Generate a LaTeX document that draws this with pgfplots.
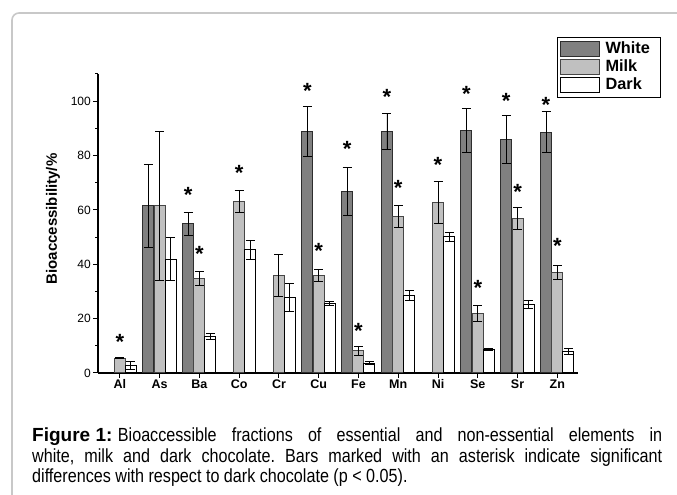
\documentclass[border=0pt]{standalone}
\usepackage{fontspec}
\setmainfont{Liberation Sans}
\newfontfamily\narrowfont[FakeStretch=0.85]{Liberation Sans}
\usepackage{pgfplots}
\pgfplotsset{compat=1.18}
\usepackage{pgfplotstable}
\definecolor{whitebar}{RGB}{128,128,128}
\definecolor{milkbar}{RGB}{192,192,192}
\definecolor{edgeA}{RGB}{45,45,45}
\definecolor{edgeB}{RGB}{70,70,70}
\definecolor{framegray}{RGB}{200,200,200}
\hbadness=10000
\frenchspacing

\pgfplotstableread{
x y e
1 61.5 15.2
2 54.9 4.2
5 89.0 9.2
6 66.7 8.8
7 88.8 6.7
9 89.2 8.0
10 85.9 8.8
11 88.6 7.5
}\whitedata
\pgfplotstableread{
x y e
0 5.4 0.2
1 61.5 27.4
2 34.8 2.5
3 63.0 4.1
4 35.9 7.6
5 35.9 2.3
6 8.2 1.6
7 57.5 4.1
8 62.7 7.7
9 21.9 2.8
10 56.9 4.0
11 37.0 2.6
}\milkdata
\pgfplotstableread{
x y e
0 2.9 1.5
1 41.9 8.0
2 13.5 1.1
3 45.3 3.4
4 27.8 5.3
5 25.6 0.6
6 3.6 0.5
7 28.6 1.8
8 50.1 1.7
9 8.7 0.5
10 25.2 1.4
11 7.8 1.1
}\darkdata
\pgfplotstableread{
x y
2 67.3
5 105.5
6 84.2
7 103.4
9 104.6
10 101.8
11 100.6
}\whitestar
\pgfplotstableread{
x y
0 13.3
2 45.8
3 75.3
5 46.8
6 17.4
7 70.1
8 78.3
9 33.0
10 68.5
11 48.6
}\milkstar

\pgfplotsset{
  mybar/.style={line width=1bp,
    legend image code/.code={\draw[##1] (0bp,-7.5bp) rectangle (39bp,8bp); \path (43bp,0bp);}},
  myerr/.style={error bars/.cd, y dir=both, y explicit,
    error bar style={black, line width=0.9bp},
    error mark options={black, rotate=90, line width=0.9bp, mark size=4.5bp}},
  star/.style={forget plot, draw=none, fill=none, bar shift=#1,
    nodes near coords={\bfseries\fontsize{22bp}{22bp}\selectfont *},
    every node near coord/.append style={anchor=base, yshift=-12.6bp, inner sep=0pt}},
}

\begin{document}
\begin{tikzpicture}
\path[use as bounding box] (0,0) rectangle (677bp,495bp);
\draw[framegray, line width=1.6bp, rounded corners=7bp] (12bp,0bp) -- (12bp,482bp) -- (677bp,482bp);
\begin{axis}[
  at={(98bp,122bp)}, anchor=south west,
  scale only axis, width=480bp, height=299bp,
  ybar, bar width=11bp,
  xmin=-0.55, xmax=11.52, ymin=0, ymax=110,
  axis x line=bottom, axis y line=left,
  axis line style={-, black, line width=1.1bp},
  xtick={0,...,11},
  xticklabels={Al,As,Ba,Co,Cr,Cu,Fe,Mn,Ni,Se,Sr,Zn},
  ytick={0,20,...,100}, minor ytick={10,30,...,110},
  tick align=outside, major tick length=5bp, minor tick length=3bp,
  tick style={black, line width=1bp},
  x tick label style={font=\bfseries\fontsize{12.5bp}{14bp}\selectfont, inner sep=1.5bp},
  y tick label style={font=\fontsize{12bp}{14bp}\selectfont, inner sep=2bp},
  /pgf/number format/assume math mode=true,
  ylabel={Bioaccessibility/\%},
  ylabel style={font=\bfseries\fontsize{15bp}{17bp}\selectfont, at={(axis description cs:-0.094,0.515)}, anchor=center},
  legend style={at={(0.9556,1.1248)}, anchor=north west, draw=black, line width=0.8bp, fill=white,
    font=\bfseries\fontsize{16.3bp}{17bp}\selectfont, inner xsep=3bp, inner ysep=3bp, row sep=0bp,
    nodes={inner sep=1.5bp, text height=11.8bp, text depth=3.2bp}},
  legend cell align=left,
  clip=false,
]
\addplot[mybar, bar shift=-11.3bp, fill=whitebar, draw=edgeA, myerr] table[x=x, y=y, y error=e] {\whitedata};
\addlegendentry{White\hspace*{6bp}}
\addplot[mybar, bar shift=0bp, fill=milkbar, draw=edgeB, myerr] table[x=x, y=y, y error=e] {\milkdata};
\addlegendentry{Milk}
\addplot[mybar, bar shift=11bp, fill=white, draw=black, myerr] table[x=x, y=y, y error=e] {\darkdata};
\addlegendentry{Dark}
\addplot[star=-11.3bp] table[x=x, y=y] {\whitestar};
\addplot[star=0bp] table[x=x, y=y] {\milkstar};
\end{axis}
\node[anchor=base west, inner sep=0pt, text width=630bp, align=justify,
  font=\fontsize{19bp}{20.3bp}\selectfont] at (32bp,53bp)
  {\mbox{\bfseries Figure 1:}\hspace{5.5bp}{\narrowfont Bioaccessible fractions of essential and non-essential elements in\linebreak white, milk and dark chocolate. Bars marked with an asterisk indicate significant\linebreak differences with respect to dark chocolate (p < 0.05).}};
\end{tikzpicture}
\end{document}
